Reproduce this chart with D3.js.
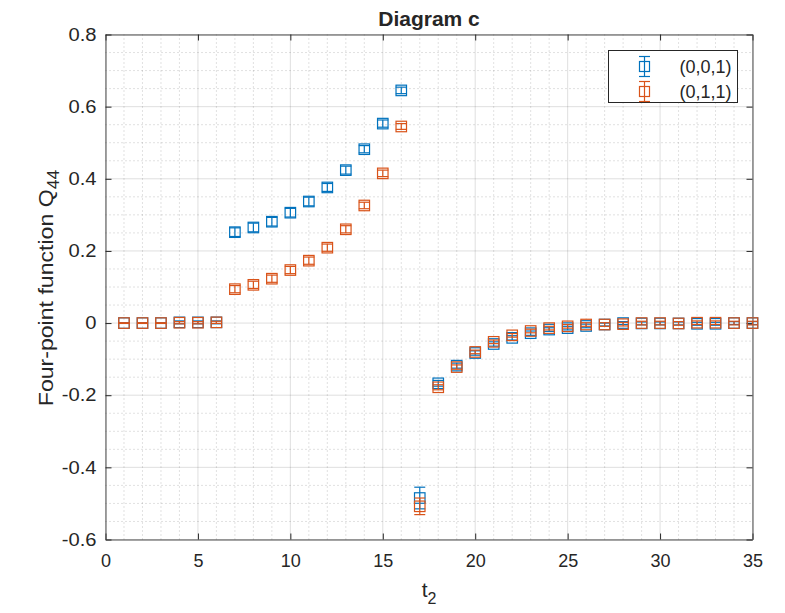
<!DOCTYPE html>
<html>
<head>
<meta charset="utf-8">
<script src="https://cdn.jsdelivr.net/npm/d3@7"></script>
<style>
  body { margin: 0; background: #fff; }
  svg text { font-family: "Liberation Sans", Arial, Helvetica, sans-serif; fill: #262626; }
</style>
</head>
<body>
<div id="chart"></div>
<script>
// data
let t2 = d3.range(1, 36);

let q001 = [0.000, 0.000, 0.000, 0.002, 0.002, 0.002, 0.252, 0.265, 0.281, 0.306,
            0.337, 0.376, 0.424, 0.482, 0.553, 0.645, -0.485, -0.167, -0.118, -0.083,
            -0.058, -0.041, -0.028, -0.018, -0.014, -0.008, -0.004, 0.000, -0.001, -0.001,
            -0.001, -0.002, -0.002, 0.000, 0.000];
let err001 = [0.001, 0.001, 0.001, 0.004, 0.004, 0.004, 0.012, 0.012, 0.012, 0.012,
              0.012, 0.011, 0.011, 0.010, 0.010, 0.009, 0.030, 0.008, 0.007, 0.006,
              0.006, 0.006, 0.006, 0.005, 0.005, 0.005, 0.004, 0.004, 0.004, 0.004,
              0.004, 0.004, 0.004, 0.004, 0.004];

let q011 = [0.000, 0.000, 0.000, 0.001, 0.001, 0.002, 0.094, 0.106, 0.123, 0.147,
            0.173, 0.209, 0.260, 0.326, 0.415, 0.545, -0.508, -0.178, -0.122, -0.080,
            -0.052, -0.034, -0.022, -0.014, -0.009, -0.004, -0.004, -0.003, 0.000, 0.000,
            -0.001, 0.001, 0.001, 0.000, 0.000];
let err011 = [0.001, 0.001, 0.001, 0.003, 0.003, 0.003, 0.010, 0.010, 0.010, 0.010,
              0.010, 0.010, 0.010, 0.009, 0.009, 0.008, 0.023, 0.007, 0.006, 0.005,
              0.005, 0.005, 0.005, 0.005, 0.005, 0.005, 0.005, 0.005, 0.005, 0.005,
              0.005, 0.005, 0.005, 0.005, 0.005];

let seriesNames = ["(0,0,1)", "(0,1,1)"];
let seriesColors = ["#0072BD", "#D95319"];
let xTicks = [0, 5, 10, 15, 20, 25, 30, 35];
let yTicks = [-0.6, -0.4, -0.2, 0, 0.2, 0.4, 0.6, 0.8];

let W = 785, H = 613;
let margin = {top: 34.5, right: 32.5, bottom: 73.5, left: 105.5};
let width = W - margin.left - margin.right;
let height = H - margin.top - margin.bottom;

let svg = d3.select("#chart").append("svg")
    .attr("width", W)
    .attr("height", H);

let g = svg.append("g")
    .attr("transform", "translate(" + margin.left + "," + margin.top + ")");

// scales
let x = d3.scaleLinear().domain([0, 35]).range([0, width]);
let y = d3.scaleLinear().domain([-0.6, 0.8]).range([height, 0]);

// minor grid (dotted)
let xMinor = d3.range(0, 36, 1).filter(d => d % 5 !== 0);
let yMinor = d3.range(-0.6, 0.8001, 0.05).filter(d => Math.abs(Math.round(d * 100) % 20) > 1);

g.append("g").selectAll("line").data(xMinor).join("line")
    .attr("x1", d => x(d)).attr("x2", d => x(d))
    .attr("y1", 0).attr("y2", height)
    .attr("stroke", "rgba(38,38,38,0.28)")
    .attr("stroke-dasharray", "1,3");
g.append("g").selectAll("line").data(yMinor).join("line")
    .attr("x1", 0).attr("x2", width)
    .attr("y1", d => y(d)).attr("y2", d => y(d))
    .attr("stroke", "rgba(38,38,38,0.28)")
    .attr("stroke-dasharray", "1,3");

// major grid
g.append("g").selectAll("line").data(xTicks).join("line")
    .attr("x1", d => x(d)).attr("x2", d => x(d))
    .attr("y1", 0).attr("y2", height)
    .attr("stroke", "rgba(38,38,38,0.15)");
g.append("g").selectAll("line").data(yTicks).join("line")
    .attr("x1", 0).attr("x2", width)
    .attr("y1", d => y(d)).attr("y2", d => y(d))
    .attr("stroke", "rgba(38,38,38,0.15)");

// axes (ticks inward, box on), plain hyphen for negatives like matlab
let tickFmt = d => String(Math.round(d * 10) / 10);
let xAxisB = g.append("g").attr("transform", "translate(0," + height + ")")
    .call(d3.axisBottom(x).tickValues(xTicks).tickSizeInner(-6).tickSizeOuter(0).tickPadding(15).tickFormat(tickFmt));
let xAxisT = g.append("g")
    .call(d3.axisTop(x).tickValues(xTicks).tickSizeInner(-6).tickSizeOuter(0).tickFormat(""));
let yAxisL = g.append("g")
    .call(d3.axisLeft(y).tickValues(yTicks).tickSizeInner(-6).tickSizeOuter(0).tickPadding(9).tickFormat(tickFmt));
let yAxisR = g.append("g").attr("transform", "translate(" + width + ",0)")
    .call(d3.axisRight(y).tickValues(yTicks).tickSizeInner(-6).tickSizeOuter(0).tickFormat(""));

[xAxisB, xAxisT, yAxisL, yAxisR].forEach(a => {
    a.select(".domain").attr("stroke", "#4a4a4a");
    a.selectAll(".tick line").attr("stroke", "#262626");
    a.selectAll(".tick text").attr("font-size", "18px").attr("fill", "#262626")
        .attr("font-family", "'Liberation Sans', Arial, sans-serif");
});
// y tick labels are a little wider in the original
yAxisL.selectAll(".tick text").each(function() {
    let w = this.getComputedTextLength();
    d3.select(this).attr("textLength", w * 1.12).attr("lengthAdjust", "spacingAndGlyphs");
});

// error bar series
let box = 10.5, cap = 11;
function drawSeries(vals, errs, color) {
    let pts = t2.map((t, i) => ({t: t, v: vals[i], e: errs[i]}));
    let sg = g.append("g").attr("stroke", color).attr("fill", "none").attr("stroke-width", 1.2);
    let p = sg.selectAll("g").data(pts).join("g");
    p.append("line")
        .attr("x1", d => x(d.t)).attr("x2", d => x(d.t))
        .attr("y1", d => y(d.v - d.e)).attr("y2", d => y(d.v + d.e));
    p.append("line")
        .attr("x1", d => x(d.t) - cap / 2).attr("x2", d => x(d.t) + cap / 2)
        .attr("y1", d => y(d.v - d.e)).attr("y2", d => y(d.v - d.e));
    p.append("line")
        .attr("x1", d => x(d.t) - cap / 2).attr("x2", d => x(d.t) + cap / 2)
        .attr("y1", d => y(d.v + d.e)).attr("y2", d => y(d.v + d.e));
    p.append("rect")
        .attr("x", d => x(d.t) - box / 2).attr("y", d => y(d.v) - box / 2)
        .attr("width", box).attr("height", box);
}
drawSeries(q001, err001, seriesColors[0]);
drawSeries(q011, err011, seriesColors[1]);

// title
svg.append("text")
    .attr("x", margin.left + width / 2).attr("y", 26)
    .attr("text-anchor", "middle")
    .attr("font-size", "21px").attr("font-weight", "bold")
    .attr("fill", "#000")
    .text("Diagram c");

// x label
let xl = svg.append("text")
    .attr("x", margin.left + width / 2).attr("y", 597)
    .attr("text-anchor", "middle")
    .attr("font-size", "21px");
xl.append("tspan").text("t");
xl.append("tspan").attr("dy", "0.45em").attr("font-size", "16px").text("2");

// y label
let yl = svg.append("text")
    .attr("transform", "translate(53,288) rotate(-90) scale(1.1,1)")
    .attr("text-anchor", "middle")
    .attr("font-size", "21px");
yl.append("tspan").text("Four-point function Q");
yl.append("tspan").attr("dy", "0.35em").attr("font-size", "16px").text("44");

// legend
let lg = svg.append("g").attr("transform", "translate(608.5,50.5)");
lg.append("rect").attr("width", 129).attr("height", 52)
    .attr("fill", "#fff").attr("stroke", "#262626").attr("stroke-width", 1);
seriesNames.forEach((name, i) => {
    let cy = 16 + i * 25, cx = 36;
    let row = lg.append("g").attr("stroke", seriesColors[i]).attr("fill", "none").attr("stroke-width", 1.2);
    row.append("line").attr("x1", cx).attr("x2", cx).attr("y1", cy - 10).attr("y2", cy + 10);
    row.append("line").attr("x1", cx - 5.5).attr("x2", cx + 5.5).attr("y1", cy - 10).attr("y2", cy - 10);
    row.append("line").attr("x1", cx - 5.5).attr("x2", cx + 5.5).attr("y1", cy + 10).attr("y2", cy + 10);
    row.append("rect").attr("x", cx - 5).attr("y", cy - 5).attr("width", 10).attr("height", 10);
    lg.append("text")
        .attr("x", 123).attr("y", cy + 6.5)
        .attr("text-anchor", "end")
        .attr("font-size", "18px")
        .text(name);
});
</script>
</body>
</html>
